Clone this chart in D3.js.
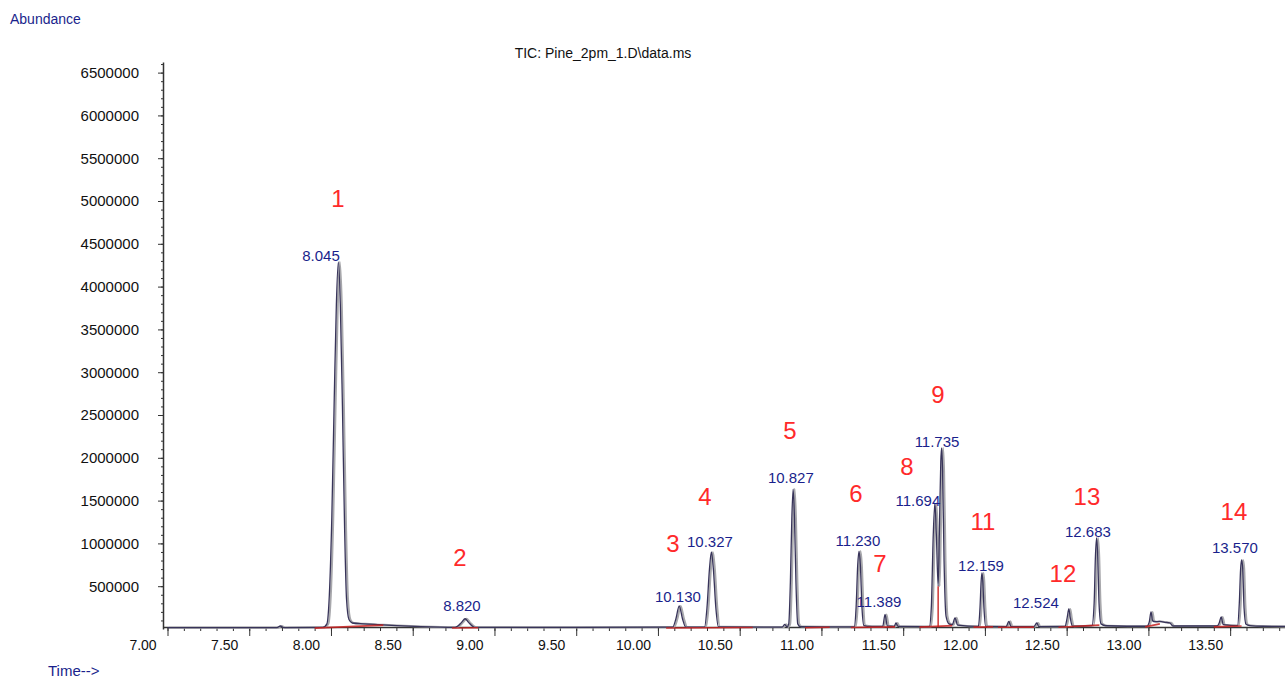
<!DOCTYPE html>
<html>
<head>
<meta charset="utf-8">
<script src="https://cdn.jsdelivr.net/npm/d3@7"></script>
<style>
  body { margin: 0; background: #fff; }
  svg { display: block; font-family: "Liberation Sans", Arial, sans-serif; }
  .axis path, .axis line { stroke: #333; }
</style>
</head>
<body>
<div id="chart"></div>
<script>
// TIC trace: [time (min), abundance]
var trace = [
  [7.00, 15000], [7.40, 15000], [7.67, 16000], [7.69, 35000], [7.71, 16000],
  [7.95, 18000], [7.975, 60000], [7.99, 400000], [8.005, 1300000], [8.02, 2700000],
  [8.033, 3800000], [8.045, 4290000], [8.057, 3800000], [8.07, 2600000], [8.083, 1200000],
  [8.095, 350000], [8.11, 110000], [8.13, 70000], [8.20, 60000], [8.30, 50000],
  [8.40, 40000], [8.55, 28000], [8.76, 20000], [8.80, 80000], [8.82, 120000],
  [8.84, 80000], [8.88, 20000], [9.50, 18000], [10.09, 22000], [10.11, 120000],
  [10.13, 270000], [10.15, 120000], [10.17, 22000], [10.285, 22000], [10.30, 250000],
  [10.315, 700000], [10.327, 900000], [10.339, 700000], [10.354, 250000], [10.37, 25000],
  [10.76, 22000], [10.775, 55000], [10.79, 24000], [10.80, 60000], [10.81, 550000],
  [10.819, 1300000], [10.827, 1635000], [10.835, 1300000], [10.844, 550000], [10.855, 60000],
  [10.87, 28000], [11.20, 25000], [11.212, 250000], [11.222, 750000], [11.230, 910000],
  [11.238, 750000], [11.248, 250000], [11.26, 40000], [11.30, 30000], [11.375, 30000],
  [11.389, 170000], [11.403, 35000], [11.445, 30000], [11.456, 70000], [11.468, 30000],
  [11.66, 28000], [11.672, 250000], [11.684, 1100000], [11.694, 1470000], [11.703, 1100000],
  [11.714, 500000], [11.723, 1300000], [11.730, 1950000], [11.735, 2115000], [11.741, 1850000],
  [11.750, 800000], [11.762, 150000], [11.78, 60000], [11.80, 50000], [11.817, 130000],
  [11.833, 45000], [11.96, 30000], [11.970, 250000], [11.977, 560000], [11.982, 654000],
  [11.987, 560000], [11.994, 250000], [12.005, 30000], [12.13, 28000], [12.146, 90000],
  [12.16, 28000], [12.30, 28000], [12.317, 70000], [12.33, 28000], [12.49, 30000],
  [12.503, 130000], [12.513, 234000], [12.523, 120000], [12.535, 32000], [12.655, 40000],
  [12.668, 300000], [12.676, 850000], [12.683, 1063000], [12.690, 850000], [12.698, 300000],
  [12.71, 60000], [12.74, 38000], [12.99, 32000], [13.005, 80000], [13.016, 200000],
  [13.026, 95000], [13.04, 85000], [13.07, 88000], [13.10, 78000], [13.13, 72000],
  [13.15, 35000], [13.42, 35000], [13.433, 70000], [13.445, 140000], [13.458, 50000],
  [13.545, 40000], [13.556, 300000], [13.564, 700000], [13.570, 806000], [13.577, 700000],
  [13.585, 250000], [13.597, 55000], [13.62, 40000], [13.70, 32000], [13.86, 30000]
];

// integration baselines (red)
var baselines = [
  [[7.90, 10000], [8.32, 45000]],
  [[8.74, 12000], [8.90, 15000]],
  [[10.05, 12000], [10.58, 18000]],
  [[10.90, 15000], [11.05, 20000]],
  [[11.18, 18000], [11.45, 25000]],
  [[11.60, 22000], [11.80, 40000]],
  [[11.714, 20000], [11.714, 500000]],
  [[11.93, 22000], [12.05, 25000]],
  [[12.08, 20000], [12.30, 22000]],
  [[12.45, 20000], [12.70, 45000]],
  [[12.98, 25000], [13.07, 60000]],
  [[13.40, 25000], [13.57, 35000]]
];

// retention time labels (blue): [text, time, abundance]
var rtLabels = [
  ["8.045", 7.939, 4299000],
  ["8.820", 8.801, 210000],
  ["10.130", 10.122, 315000],
  ["10.327", 10.318, 958000],
  ["10.827", 10.813, 1706000],
  ["11.230", 11.223, 970000],
  ["11.389", 11.352, 257000],
  ["11.694", 11.590, 1437000],
  ["11.735", 11.707, 2126000],
  ["12.159", 11.976, 678000],
  ["12.524", 12.312, 245000],
  ["12.683", 12.630, 1075000],
  ["13.570", 13.529, 888000]
];

// peak numbers (red): [text, time, abundance]
var peakNumbers = [
  ["1", 8.043, 4930000],
  ["2", 8.789, 736000],
  ["3", 10.092, 900000],
  ["4", 10.287, 1449000],
  ["5", 10.807, 2220000],
  ["6", 11.211, 1484000],
  ["7", 11.358, 666000],
  ["8", 11.523, 1799000],
  ["9", 11.713, 2640000],
  ["11", 11.988, 1157000],
  ["12", 12.477, 549000],
  ["13", 12.624, 1449000],
  ["14", 13.523, 1273000]
];

var xMajor = [7.0, 7.5, 8.0, 8.5, 9.0, 9.5, 10.0, 10.5, 11.0, 11.5, 12.0, 12.5, 13.0, 13.5];
var yMajor = [500000, 1000000, 1500000, 2000000, 2500000, 3000000, 3500000, 4000000,
              4500000, 5000000, 5500000, 6000000, 6500000];

var width = 1285, height = 679;

var svg = d3.select("#chart").append("svg")
    .attr("width", width)
    .attr("height", height);

var x = d3.scaleLinear().domain([7, 13.86]).range([167.5, 1289]);
var y = d3.scaleLinear().domain([0, 6624000]).range([629, 62]);

// minor ticks every 0.1 min / 100000
var xMinor = d3.range(70, 139).map(function(d){ return d / 10; });
var yMinor = d3.range(1, 67).map(function(d){ return d * 100000; });

// x axis
svg.append("g")
    .attr("class", "axis")
    .attr("transform", "translate(0,627)")
    .call(d3.axisBottom(x).tickValues(xMinor).tickSize(4).tickFormat(""))
    .call(function(g){ g.select(".domain").remove(); });

var xAxis = svg.append("g")
    .attr("class", "axis")
    .attr("transform", "translate(0,627)")
    .call(d3.axisBottom(x).tickValues(xMajor).tickSize(9).tickSizeOuter(0).tickFormat(d3.format(".2f")));
xAxis.select(".domain").attr("d", "M163.5,0.5H1285").attr("stroke-width", 1.5);
xAxis.selectAll("text")
    .attr("dx", -25)
    .attr("y", 13)
    .style("font-size", "14px")
    .attr("fill", "#111");

// y axis
svg.append("g")
    .attr("class", "axis")
    .attr("transform", "translate(163,0)")
    .call(d3.axisLeft(y).tickValues(yMinor).tickSize(2).tickFormat(""))
    .call(function(g){ g.select(".domain").remove(); });

var yAxis = svg.append("g")
    .attr("class", "axis")
    .attr("transform", "translate(163,0)")
    .call(d3.axisLeft(y).tickValues(yMajor).tickSize(5).tickSizeOuter(0).tickFormat(d3.format("d")));
yAxis.select(".domain").attr("stroke-width", 1.5);
yAxis.selectAll("text")
    .attr("x", -24)
    .style("font-size", "15px")
    .attr("fill", "#111");

// chromatogram
var line = d3.line()
    .curve(d3.curveMonotoneX)
    .x(function(d){ return x(d[0]); })
    .y(function(d){ return y(d[1]); });

svg.append("path")
    .datum(trace)
    .attr("d", line)
    .attr("transform", "translate(1.5,0)")
    .attr("fill", "none")
    .attr("stroke", "#a8a8ac")
    .attr("stroke-width", 2);

svg.append("path")
    .datum(trace)
    .attr("d", line)
    .attr("fill", "none")
    .attr("stroke", "#38345a")
    .attr("stroke-width", 1.3);

// red baselines drawn over the trace
svg.selectAll(".baseline")
    .data(baselines)
    .enter().append("path")
    .attr("class", "baseline")
    .attr("d", d3.line().x(function(d){ return x(d[0]); }).y(function(d){ return y(d[1]); }))
    .attr("stroke", "#c8201e")
    .attr("stroke-opacity", 0.85)
    .attr("stroke-width", 1.6)
    .attr("fill", "none");

// labels
svg.selectAll(".rt")
    .data(rtLabels)
    .enter().append("text")
    .attr("class", "rt")
    .attr("x", function(d){ return x(d[1]); })
    .attr("y", function(d){ return y(d[2]); })
    .attr("text-anchor", "middle")
    .style("font-size", "15px")
    .attr("fill", "#1a1f8c")
    .text(function(d){ return d[0]; });

svg.selectAll(".num")
    .data(peakNumbers)
    .enter().append("text")
    .attr("class", "num")
    .attr("x", function(d){ return x(d[1]); })
    .attr("y", function(d){ return y(d[2]); })
    .attr("text-anchor", "middle")
    .style("font-size", "24px")
    .attr("fill", "#ff2a2a")
    .text(function(d){ return d[0]; });

svg.append("text")
    .attr("x", 10).attr("y", 24)
    .style("font-size", "14px")
    .attr("fill", "#1a1f8c")
    .text("Abundance");

svg.append("text")
    .attr("x", 48).attr("y", 676)
    .style("font-size", "15px")
    .attr("fill", "#1a1f8c")
    .text("Time-->");

svg.append("text")
    .attr("x", 603).attr("y", 58)
    .attr("text-anchor", "middle")
    .style("font-size", "14px")
    .attr("fill", "#111")
    .text("TIC: Pine_2pm_1.D\\data.ms");
</script>
</body>
</html>
